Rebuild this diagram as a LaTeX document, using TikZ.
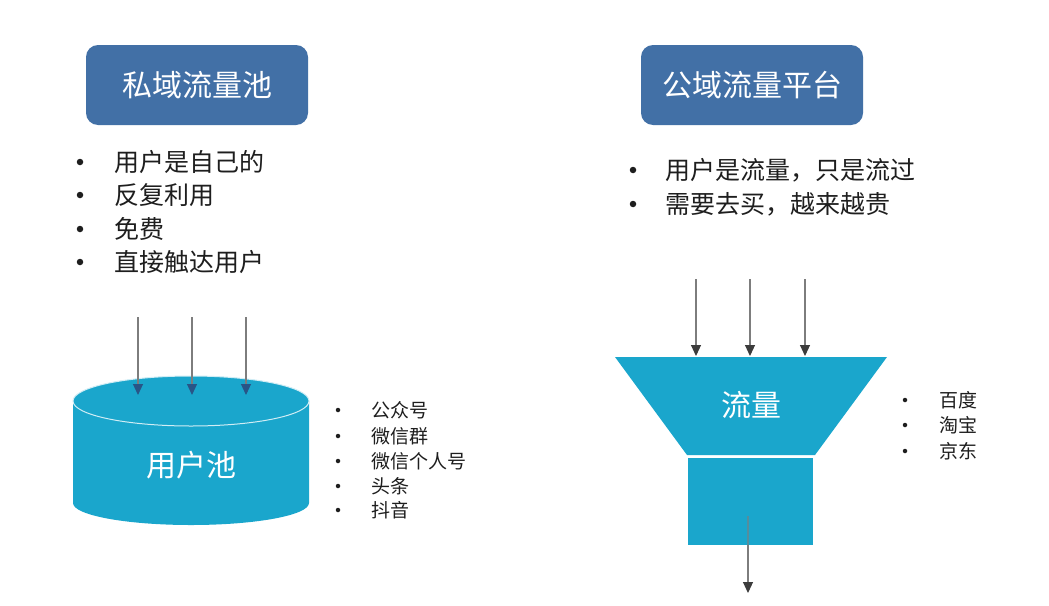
\documentclass[tikz,border=0pt]{standalone}
\usepackage{fontspec}
\setmainfont{Noto Sans CJK SC}
\usetikzlibrary{arrows.meta}
\definecolor{titleblue}{RGB}{66,112,166}
\definecolor{poolcyan}{RGB}{26,166,204}
\definecolor{txt}{RGB}{30,30,30}
\definecolor{arrowgray}{RGB}{125,125,125}
\definecolor{tipblue}{RGB}{40,85,135}
\definecolor{tipgray}{RGB}{60,60,60}
\tikzset{
  titlebox/.style={fill=titleblue, rounded corners=12pt, minimum width=222pt, minimum height=80pt, text=white, font=\fontsize{30}{36}\selectfont, inner sep=0pt},
  bigitem/.style={anchor=west, text=txt, font=\fontsize{25}{30}\selectfont, inner sep=0pt},
  smallitem/.style={anchor=west, text=txt, font=\fontsize{19}{23}\selectfont, inner sep=0pt},
  dot/.style={circle, fill=txt, inner sep=0pt, minimum size=#1},
  inarrowL/.style={draw=arrowgray, line width=1.1pt, -{Triangle[length=11pt,width=10pt,color=tipblue,fill=tipblue]}},
  inarrowR/.style={draw=arrowgray, line width=1.1pt, -{Triangle[length=11pt,width=10pt,color=tipgray,fill=tipgray]}},
  shapelabel/.style={text=white, font=\fontsize{30}{36}\selectfont, inner sep=0pt}
}
\begin{document}
\begin{tikzpicture}[x=1pt,y=-1pt]
\useasboundingbox[fill=white] (0,0) rectangle (1049,605);

% title boxes
\node[titlebox] (t1) at (197,85) {私域流量池};
\node[titlebox] (t2) at (752,85) {公域流量平台};

% left bullet list
\foreach \i/\t/\y in {1/用户是自己的/162, 2/反复利用/195, 3/免费/229, 4/直接触达用户/262} {
  \node[dot=6.5pt] (ld\i) at (80,\y) {};
  \node[bigitem] (l\i) at (114,\y) {\t};
}
% right bullet list
\foreach \i/\t/\y in {1/用户是流量，只是流过/170, 2/需要去买，越来越贵/204} {
  \node[dot=6.5pt] (rd\i) at (633,\y) {};
  \node[bigitem] (r\i) at (665,\y) {\t};
}

% cylinder
\fill[poolcyan] (73,401) -- (73,503) arc[start angle=180,end angle=0,x radius=118,y radius=22] -- (309,401) arc[start angle=0,end angle=-180,x radius=118,y radius=25] -- cycle;
\draw[white!80!poolcyan, line width=1pt] (191,401) ellipse[x radius=118, y radius=25];
\node[shapelabel] (pool) at (191,465) {用户池};
\coordinate (cyltop) at (191,401);

% arrows into cylinder
\foreach \i/\x in {1/138, 2/192, 3/246} {
  \coordinate (ls\i) at (\x,317);
  \coordinate (le\i) at (\x,395);
  \draw[inarrowL] (ls\i) -- (le\i);
}

% pool bullet list
\foreach \i/\t/\y in {1/公众号/410, 2/微信群/436, 3/微信个人号/461, 4/头条/486, 5/抖音/510} {
  \node[dot=4.5pt] (pd\i) at (338,\y) {};
  \node[smallitem] (p\i) at (371,\y) {\t};
}

% funnel
\fill[poolcyan] (615,357) -- (887,357) -- (815,455) -- (687,455) -- cycle;
\node[shapelabel] (flow) at (751,405) {流量};
\fill[poolcyan] (688,458) rectangle (813,545);
\coordinate (spout) at (750,500);

% arrows into funnel
\foreach \i/\x in {1/696, 2/750, 3/805} {
  \coordinate (fs\i) at (\x,279);
  \coordinate (fe\i) at (\x,356);
  \draw[inarrowR] (fs\i) -- (fe\i);
}
% arrow out of funnel
\coordinate (os) at (748,516);
\coordinate (oe) at (748,593);
\coordinate (ob) at (748,545);
\draw[draw=arrowgray!60!poolcyan, line width=1.1pt] (os) -- (ob);
\draw[inarrowR] (ob) -- (oe);

% funnel bullet list
\foreach \i/\t/\y in {1/百度/400, 2/淘宝/425, 3/京东/451} {
  \node[dot=4.5pt] (fd\i) at (905,\y) {};
  \node[smallitem] (f\i) at (939,\y) {\t};
}
\end{tikzpicture}
\end{document}
